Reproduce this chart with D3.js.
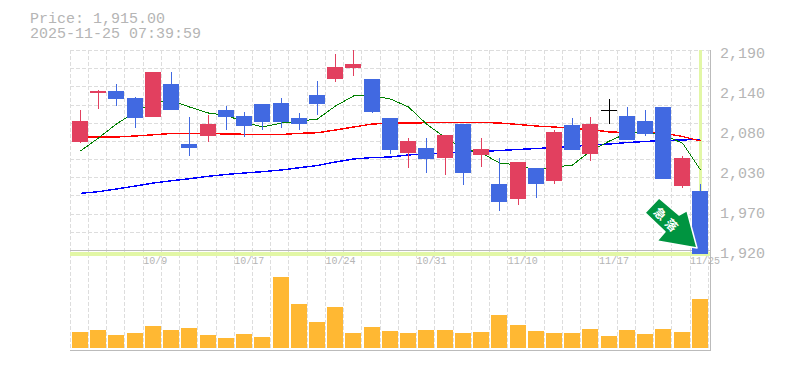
<!DOCTYPE html>
<html>
<head>
<meta charset="utf-8">
<script src="https://cdn.jsdelivr.net/npm/d3@7"></script>
<style>
    body { margin: 0; background: #fff; }
    text { font-family: "Liberation Mono", monospace; fill: #b5b5b5; }
</style>
</head>
<body>
<div id="chart"></div>
<script>
const titleLines = ["Price: 1,915.00", "2025-11-25 07:39:59"];

// daily candles, in price units, oldest first
const opens = [2066,2133,2135,2126,2100,2145,2064,2075,2110,2102,2118,2119,2099,2130,2152,2166,2152,2099,2052,2058,2045,2091,2049,2010,1990,2031,2014,2089,2050,2110,2102,2095,2114,2007,2000];
const highs = [2110,2137,2145,2127,2161,2161,2100,2103,2115,2107,2118,2126,2106,2149,2185,2191,2152,2099,2072,2072,2076,2091,2072,2045,2039,2031,2083,2099,2100,2125,2114,2110,2114,2048,2010];
const lows = [2065,2111,2115,2085,2100,2110,2048,2066,2083,2073,2083,2085,2083,2103,2147,2156,2106,2050,2031,2025,2022,2008,2033,1973,1981,1991,2010,2056,2041,2091,2069,2075,2017,2004,1915];
const closes = [2095,2135,2125,2099,2161,2110,2058,2091,2100,2088,2094,2094,2091,2118,2168,2172,2107,2056,2068,2044,2076,2025,2057,1985,2039,2010,2080,2056,2091,2110,2069,2077,2017,2045,1915];

const maShort = [2054.3,2071.9,2090.8,2107,2119.8,2122.5,2113.7,2105.6,2102.3,2093.5,2086.7,2092.1,2094.8,2097.5,2115.1,2128.6,2129.3,2124.5,2113.7,2090.8,2071.9,2057,2051.6,2038.1,2035.4,2028,2032.7,2035.4,2054.3,2067.8,2078.6,2080.6,2075.9,2065,2028.7];
const maMid = [2072.8,2073.2,2073.2,2074.6,2076.2,2078,2078.2,2078,2077.3,2076.9,2076.6,2076.6,2078.2,2079,2082.7,2086.7,2090.8,2091.7,2092.1,2092.5,2092.8,2092.9,2092.9,2092.1,2090.1,2088,2086.7,2084.7,2083.3,2080,2079.3,2079,2078.6,2073.9,2067.8];
const maLong = [1997.2,1999.4,2003,2007.1,2011.1,2014.2,2016.9,2020.2,2022.7,2024.6,2026.4,2028.7,2031.8,2034.7,2039.5,2043.5,2045.5,2046.2,2049,2050.3,2051.6,2053,2053.6,2055,2056.4,2057.7,2059,2060.4,2062.4,2063.8,2065.8,2067.2,2068.5,2069.2,2070.1];

const volumes = [16,18,13,15,22,18,20,13,10,14,11,71,44,26,41,15,21,17,15,18,18,15,16,33,23,17,15,15,19,12,18,14,19,16,49];

const dateTicks = [4,9,14,19,24,29,34];
const dateLabels = ["10/9","10/17","10/24","10/31","11/10","11/17","11/25"];
const priceTicks = [2190,2136,2082,2028,1974,1920];
const priceLabels = ["2,190","2,140","2,080","2,030","1,970","1,920"];

const width = 785, height = 370;
const UP = "#e2405f", DOWN = "#4169e1", GRID = "#ddd", AXIS = "#bbb", BAND = "#e2f7a6";

const svg = d3.select("#chart")
    .append("svg")
    .attr("width", width)
    .attr("height", height)
    .style("display", "block")
    .attr("shape-rendering", "crispEdges");

const days = d3.range(opens.length);

const x = d3.scaleBand().domain(days).range([70.2, 708.25]);
const y = d3.scaleLinear().domain([1920, 2190]).range([250.5, 50.5]);
const yVol = d3.scaleLinear().domain([0, 71]).range([348, 277]);

const barLeft = i => Math.round(x(i) + 1.8);
const px = v => Math.floor(v) + 0.5;

// title
svg.selectAll(".title")
    .data(titleLines)
    .join("text")
    .attr("class", "title")
    .attr("x", 30)
    .attr("y", (d, i) => 23 + i * 15)
    .style("font-size", "15px")
    .text(d => d);

// dashed grid
const gridX = d3.range(opens.length + 1).map(i => px(70.2 + x.step() * i));
svg.append("g").selectAll("line")
    .data(gridX)
    .join("line")
    .attr("x1", d => d).attr("x2", d => d)
    .attr("y1", 50).attr("y2", 350)
    .attr("stroke", GRID)
    .attr("stroke-dasharray", "4,2");

const gridY = d3.range(12).map(i => 1920 + i * (270 / 11));
svg.append("g").selectAll("line")
    .data(gridY)
    .join("line")
    .attr("x1", 70).attr("x2", 710)
    .attr("y1", d => px(y(d))).attr("y2", d => px(y(d)))
    .attr("stroke", GRID)
    .attr("stroke-dasharray", "4,2");

// highlight bands for latest price and latest day
svg.append("rect")
    .attr("x", 70).attr("y", 251.5)
    .attr("width", 640).attr("height", 4)
    .attr("fill", BAND);
svg.append("rect")
    .attr("x", barLeft(34) + 7).attr("y", 50)
    .attr("width", 3).attr("height", 205)
    .attr("fill", BAND);

// axis frame
svg.append("line").attr("x1", 70).attr("x2", 710).attr("y1", 250.5).attr("y2", 250.5).attr("stroke", AXIS);
svg.append("line").attr("x1", 70).attr("x2", 710).attr("y1", 350.5).attr("y2", 350.5).attr("stroke", AXIS);
svg.append("line").attr("x1", 710.5).attr("x2", 710.5).attr("y1", 50).attr("y2", 351).attr("stroke", AXIS);

// moving averages sit under the candles
const maLine = d3.line()
    .x((d, i) => barLeft(i) + 8.5)
    .y(d => y(d));

[[maLong, "#0000ff", 1.4], [maMid, "#ff0000", 1.4], [maShort, "#008000", 1]].forEach(([values, color, w]) => {
    svg.append("path")
        .attr("d", maLine(values))
        .attr("fill", "none")
        .attr("stroke", color)
        .attr("stroke-width", w);
});

// candles
const candleColor = i => closes[i] > opens[i] ? UP : closes[i] < opens[i] ? DOWN : "#000";

const candles = svg.append("g").selectAll("g")
    .data(days)
    .join("g");

candles.append("line")
    .attr("x1", i => barLeft(i) + 8.5)
    .attr("x2", i => barLeft(i) + 8.5)
    .attr("y1", i => Math.round(y(highs[i])))
    .attr("y2", i => Math.round(y(lows[i])))
    .attr("stroke", candleColor);

candles.append("rect")
    .attr("x", barLeft)
    .attr("y", i => Math.round(y(Math.max(opens[i], closes[i]))))
    .attr("width", 16)
    .attr("height", i => Math.max(1, Math.round(y(Math.min(opens[i], closes[i]))) - Math.round(y(Math.max(opens[i], closes[i])))))
    .attr("fill", candleColor);

// volume
svg.append("g").selectAll("rect")
    .data(volumes)
    .join("rect")
    .attr("x", (d, i) => barLeft(i))
    .attr("y", d => yVol(d))
    .attr("width", 16)
    .attr("height", d => yVol(0) - yVol(d))
    .attr("fill", "#ffb833");

// axes
const priceAxis = svg.append("g")
    .attr("transform", "translate(720,2)")
    .call(d3.axisRight(y).tickValues(priceTicks).tickFormat((d, i) => priceLabels[i]).tickSize(0).tickPadding(0));
priceAxis.select(".domain").remove();
priceAxis.selectAll("text")
    .attr("fill", null)
    .style("font-family", '"Liberation Mono", monospace')
    .style("font-size", "15px");

const dateAxis = svg.append("g")
    .attr("transform", "translate(0,257)")
    .call(d3.axisBottom(x).tickValues(dateTicks).tickFormat((d, i) => dateLabels[i]).tickSize(0).tickPadding(0));
dateAxis.select(".domain").remove();
dateAxis.selectAll("text")
    .attr("fill", null)
    .attr("x", -x.step() / 2)
    .style("text-anchor", "start")
    .style("font-family", '"Liberation Mono", monospace')
    .style("font-size", "10px");

// green arrow pointing at the last candle
const arrow = svg.append("g")
    .attr("transform", `translate(${barLeft(34) + 5},${y(1920) - 2.5})`)
    .attr("shape-rendering", "auto");

arrow.append("path")
    .attr("d", "M-52,-35.3L-38,-50L-18,-33L-10,-37.3L0,0L-40,-7L-32,-16.3Z")
    .attr("fill", "#009440")
    .attr("stroke", "#fff")
    .attr("stroke-width", 1.5)
    .attr("stroke-linejoin", "round");

arrow.append("text")
    .attr("transform", "translate(-30,-27) rotate(45)")
    .attr("text-anchor", "middle")
    .attr("dy", "0.36em")
    .style("font-family", '"Noto Sans CJK JP"')
    .style("font-size", "12px")
    .style("letter-spacing", "4px")
    .style("font-weight", "bold")
    .style("fill", "#fff")
    .text("急落");
</script>
</body>
</html>
